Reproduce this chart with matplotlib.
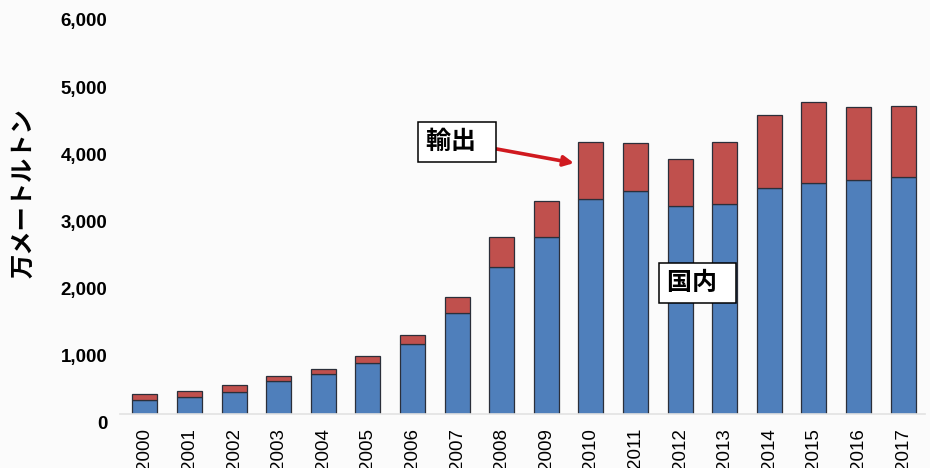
import matplotlib.pyplot as plt
import matplotlib.transforms as mtransforms
import numpy as np

plt.rcParams['font.family'] = ['Liberation Sans', 'Noto Sans CJK JP', 'DejaVu Sans']

years = [str(y) for y in range(2000, 2018)]
# 万メートルトン
domestic = [213, 258, 332, 491, 595, 754, 1037, 1508, 2183, 2629,
            3195, 3314, 3100, 3125, 3368, 3433, 3477, 3522]
total = [293, 338, 427, 570, 670, 863, 1171, 1736, 2629, 3170,
         4043, 4033, 3795, 4048, 4445, 4638, 4564, 4579]
export = [t - d for t, d in zip(total, domestic)]
yticks = [0, 1000, 2000, 3000, 4000, 5000, 6000]

fig = plt.figure(figsize=(9.3, 4.68), dpi=100, facecolor='#fbfbfb')
ax = fig.add_axes([0.129, 0.1155, 0.866, 0.861], facecolor='#fbfbfb')

x = np.arange(len(years))
ax.bar(x, domestic, width=0.56, color='#4f7fbb', edgecolor='#2b2f3a', linewidth=0.9)
ax.bar(x, export, bottom=domestic, width=0.56, color='#c0504d', edgecolor='#2b2f3a', linewidth=0.9)

ax.set_xlim(-0.56, 17.5)
ax.set_ylim(0, 6000)
ax.set_xticks(x)
ax.set_xticklabels(years, rotation=90, fontsize=13.5, va='top')
ax.set_yticks(yticks)
ax.set_yticklabels([f'{v:,}' for v in yticks], fontsize=13.5, fontweight='bold')
ax.tick_params(axis='both', length=0)
ax.tick_params(axis='y', pad=9)
ax.tick_params(axis='x', pad=10)

# y labels sit a little below their ticks
shift = mtransforms.ScaledTranslation(0, -9 / 100, fig.dpi_scale_trans)
for lab in ax.get_yticklabels():
    lab.set_transform(lab.get_transform() + shift)

for s in ['top', 'right', 'left']:
    ax.spines[s].set_visible(False)
ax.spines['bottom'].set_color('#e2e2e2')
ax.spines['bottom'].set_linewidth(1.2)

fig.text(0.025, 0.587, '万メートルトン', rotation=90, ha='center', va='center',
         fontsize=17.5, fontweight='bold', family=['Noto Sans CJK JP', 'DejaVu Sans'])

box = dict(boxstyle='square,pad=0.33', facecolor='white', edgecolor='black', linewidth=1.1)
ax.annotate('輸出  ', xy=(9.62, 3735), xytext=(7.0, 4053), ha='center', va='center',
            fontsize=18, fontweight='bold', family=['Noto Sans CJK JP', 'DejaVu Sans'],
            bbox=box,
            arrowprops=dict(arrowstyle='-|>', color='#d0191f', lw=2.6,
                            mutation_scale=15, shrinkA=0, shrinkB=0))
ax.text(12.39, 1950, '国内  ', ha='center', va='center', fontsize=18, fontweight='bold',
        family=['Noto Sans CJK JP', 'DejaVu Sans'], bbox=box)

fig.savefig('out.png', dpi=100, facecolor=fig.get_facecolor())
